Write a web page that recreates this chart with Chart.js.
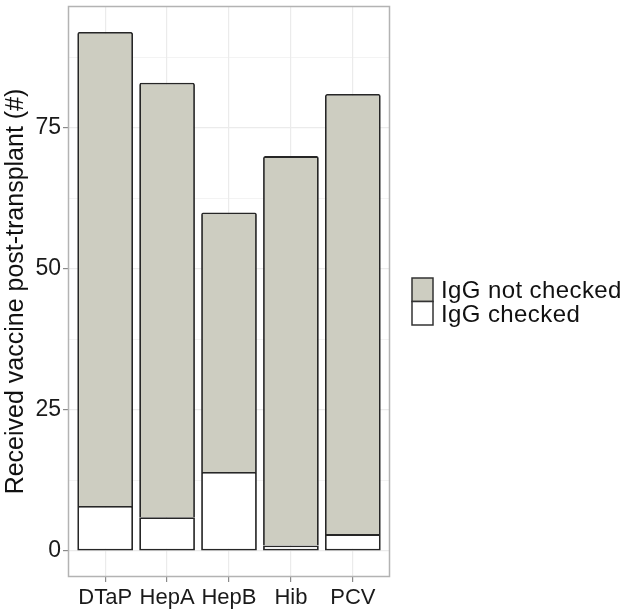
<!DOCTYPE html>
<html>
<head>
<meta charset="utf-8">
<script src="https://cdn.jsdelivr.net/npm/chart.js@4.4.1/dist/chart.umd.min.js"></script>
<style>
  html, body { margin: 0; padding: 0; background: #ffffff; }
  #wrap { position: relative; width: 630px; height: 613px; }
</style>
</head>
<body>
<div id="wrap"><canvas id="c" width="630" height="613"></canvas></div>
<script>
// ---- data ----
const categories = ["DTaP", "HepA", "HepB", "Hib", "PCV"];
const iggChecked = [8, 6, 14, 1, 3];
const iggNotChecked = [84, 77, 46, 69, 78];
const seriesLabels = ["IgG not checked", "IgG checked"];
const yTickLabels = [0, 25, 50, 75];
const yMinorTicks = [12.5, 37.5, 62.5, 87.5];

const FONT = "'Liberation Sans', Arial, Helvetica, sans-serif";
const GREY_FILL = "#cdcdc1";
const BAR_BORDER = "#262626";

const toPoints = (arr) => arr.map((v, i) => ({ x: i + 1, y: v }));

const panelBorder = {
  id: "panelBorder",
  afterDatasetsDraw(chart) {
    const { ctx, chartArea: a } = chart;
    ctx.save();
    ctx.strokeStyle = "#b3b3b3";
    ctx.lineWidth = 1.5;
    ctx.strokeRect(a.left + 0.5, a.top + 0.5, a.right - a.left - 1, a.bottom - a.top - 1);
    ctx.restore();
  }
};

const sideLegend = {
  id: "sideLegend",
  afterDraw(chart) {
    const { ctx } = chart;
    const ds = chart.data.datasets;
    // order: "IgG not checked" first (top), then "IgG checked"
    const items = [ds[1], ds[0]];
    const x0 = 412, y0 = 278, w = 21, h = 23.5;
    ctx.save();
    items.forEach((d, i) => {
      const y = y0 + i * h;
      ctx.fillStyle = d.backgroundColor;
      ctx.fillRect(x0, y, w, h);
      ctx.strokeStyle = "#333333";
      ctx.lineWidth = 1.5;
      ctx.strokeRect(x0, y, w, h);
      ctx.fillStyle = "#111111";
      ctx.font = "24px " + FONT;
      if ("letterSpacing" in ctx) ctx.letterSpacing = "0.4px";
      ctx.textAlign = "left";
      ctx.textBaseline = "middle";
      ctx.fillText(d.label, x0 + w + 8, y + h / 2 + 2);
    });
    ctx.restore();
  }
};

new Chart(document.getElementById("c"), {
  type: "bar",
  data: {
    datasets: [
      {
        label: seriesLabels[1],
        data: toPoints(iggChecked),
        backgroundColor: "#ffffff",
        borderColor: BAR_BORDER,
        borderWidth: 1.8,
        borderSkipped: false,
        borderRadius: 2,
        stack: "s"
      },
      {
        label: seriesLabels[0],
        data: toPoints(iggNotChecked),
        backgroundColor: GREY_FILL,
        borderColor: BAR_BORDER,
        borderWidth: 1.8,
        borderSkipped: "start",
        borderRadius: 2,
        stack: "s"
      }
    ]
  },
  options: {
    responsive: false,
    animation: false,
    devicePixelRatio: 1,
    layout: { autoPadding: false, padding: { top: 6, right: 240, left: 0, bottom: 0 } },
    datasets: { bar: { barPercentage: 0.9, categoryPercentage: 1 } },
    plugins: { legend: { display: false }, tooltip: { enabled: false } },
    scales: {
      x: {
        type: "linear",
        min: 0.4,
        max: 5.6,
        offset: false,
        afterBuildTicks: (s) => { s.ticks = categories.map((c, i) => ({ value: i + 1 })); },
        afterFit: (s) => { s.height = 36; s.paddingLeft = 0; s.paddingRight = 0; },
        ticks: {
          autoSkip: false,
          maxRotation: 0,
          padding: 3,
          color: "#1a1a1a",
          font: { family: FONT, size: 22 },
          callback: (v) => categories[Math.round(v) - 1]
        },
        grid: {
          offset: false,
          color: "#ebebeb",
          lineWidth: 1.2,
          tickColor: "#8a8a8a",
          tickLength: 5,
          tickWidth: 1.2
        },
        border: { display: false }
      },
      y: {
        stacked: true,
        min: -4.6,
        max: 96.6,
        afterBuildTicks: (s) => {
          s.ticks = yTickLabels.concat(yMinorTicks).sort((a, b) => a - b).map((v) => ({ value: v }));
        },
        afterFit: (s) => { s.width = 68; s.paddingTop = 0; s.paddingBottom = 0; },
        ticks: {
          padding: 2,
          color: "#1a1a1a",
          font: { family: FONT, size: 23 },
          callback: (v) => (yTickLabels.includes(v) ? String(v) : "")
        },
        grid: {
          color: "#ebebeb",
          lineWidth: (c) => (c.tick && yTickLabels.includes(c.tick.value) ? 1.2 : 0.6),
          tickColor: (c) => (c.tick && yTickLabels.includes(c.tick.value) ? "#8a8a8a" : "rgba(0,0,0,0)"),
          tickLength: 5,
          tickWidth: 1.2
        },
        border: { display: false },
        title: {
          display: true,
          text: "Received vaccine post-transplant (#)",
          color: "#111111",
          font: { family: FONT, size: 25 },
          padding: { top: 1, bottom: 0 }
        }
      }
    }
  },
  plugins: [panelBorder, sideLegend]
});
</script>
</body>
</html>
